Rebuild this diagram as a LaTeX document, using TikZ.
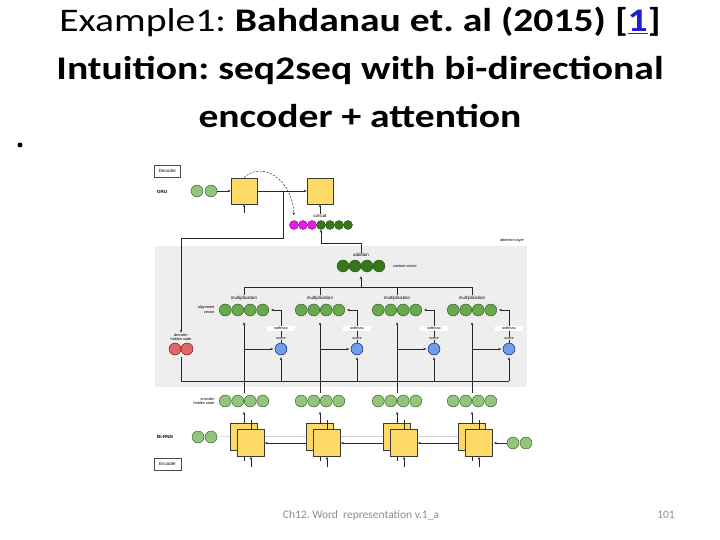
\documentclass[tikz,border=0pt]{standalone}
\usepackage{fontspec}
\setmainfont{Carlito}
\newfontfamily\diagfont{Liberation Sans}
\usetikzlibrary{arrows.meta}
\definecolor{boxyellow}{HTML}{FFD966}
\definecolor{boxline}{HTML}{3A3A3A}
\definecolor{lightgreen}{HTML}{93C47D}
\definecolor{midgreen}{HTML}{6AA84F}
\definecolor{darkgreen}{HTML}{38761D}
\definecolor{concatpink}{HTML}{E61CE6}
\definecolor{scoreblue}{HTML}{6D9EEB}
\definecolor{hiddenred}{HTML}{E06666}
\definecolor{layergray}{HTML}{EEEEEE}
\definecolor{linkblue}{HTML}{1F1FD0}
\definecolor{footgray}{HTML}{8C8C8C}
\frenchspacing

\begin{document}
\begin{tikzpicture}[x=1pt,y=-1pt]
\tikzset{
	rnnbox/.style={draw=boxline, fill=boxyellow, minimum size=27pt, inner sep=0pt, line width=0.6pt},
	cell/.style={circle, draw=darkgreen!70!black, minimum size=12pt, inner sep=0pt, line width=0.4pt},
	smallcell/.style={cell, minimum size=9pt},
	tiny/.style={font=\diagfont\fontsize{4.5}{5}\selectfont, inner sep=0.5pt},
	tinybold/.style={font=\diagfont\bfseries\fontsize{4.5}{5}\selectfont, inner sep=0.5pt},
	side/.style={font=\diagfont\fontsize{3.8}{4.3}\selectfont, align=right, inner sep=0.5pt},
	heading/.style={anchor=base, font=\fontsize{33}{40}\selectfont},
	arr/.style={-{Stealth[length=3pt,width=2.4pt]}, line width=0.5pt, draw=black!85},
	link/.style={line width=0.5pt, draw=black!85},
	faint/.style={arr, draw=black!18}
}
\useasboundingbox (0,0) rectangle (720,540);

\node[heading] (TTL1) at (360,32) {\scalebox{1.2}[1]{Example1: \textbf{Bahdanau et. al (2015) [\textcolor{linkblue}{\underline{1}}]}}};
\node[heading] (TTL2) at (360,80) {\scalebox{1.2}[1]{\bfseries Intuition: seq2seq with bi-directional}};
\node[heading] (TTL3) at (360,128) {\scalebox{1.2}[1]{\bfseries encoder + attention}};
\node[circle, fill=black, minimum size=5pt, inner sep=0pt] (BUL) at (20,145) {};

% attention layer background
\fill[layergray] (155,246) rectangle (527,387);
\node[side] (ATL) at (512,241) {attention layer};

% decoder
\node[draw=black!70, tiny, minimum width=26pt, minimum height=12pt] (DEC) at (167.5,171) {Decoder};
\node[tinybold] (GRU) at (162,192) {GRU};
\node[cell, fill=lightgreen] (GIN1) at (197,191) {};
\node[cell, fill=lightgreen] (GIN2) at (211,191) {};
\node[rnnbox, minimum size=26pt] (GRUA) at (244,191) {};
\node[rnnbox, minimum size=26pt] (GRUB) at (320,191) {};
\coordinate (GRUIN) at (244,213);
\coordinate (HSPLIT) at (283,191);
\coordinate (HBEND) at (283,238);
\draw[arr] (GIN2) -- (GRUA);
\draw[arr] (GRUIN) -- (GRUA);
\draw[arr] (GRUA) -- (GRUB);

% concat
\node[tiny] (CCT) at (320,216) {concat};
\foreach \x [count=\k] in {294,303,312}
	\node[smallcell, fill=concatpink, draw=concatpink!60!black] (CP\k) at (\x,225) {};
\foreach \x [count=\k] in {321,330,339,348}
	\node[smallcell, fill=darkgreen] (CG\k) at (\x,225) {};
\draw[arr] (CCT) -- (GRUB);
\draw[arr, dash pattern=on 2pt off 1.5pt, shorten >=5pt] (GRUA.north) .. controls (262,160) and (293,180) .. (CP1.north);

% decoder hidden state
\node[side, align=center] (DHS) at (181,337) {decoder\\hidden state};
\node[cell, fill=hiddenred, draw=red!40!black] (RED1) at (175,349) {};
\node[cell, fill=hiddenred, draw=red!40!black] (RED2) at (187,349) {};
\draw[arr] (HSPLIT) -- (HBEND) -| (DHS.north);

% addition
\node[tiny] (ADDL) at (361,255) {addition};
\foreach \x [count=\k] in {343,355,367,379}
	\node[cell, fill=darkgreen] (AD\k) at (\x,266) {};
\node[side] (CTXL) at (405,266) {context vector};
\coordinate (CTXBEND) at (321,243);
\draw[arr] (ADDL.north) |- (CTXBEND) -- (CG1.south);

% multiplications and scores
\node[side, anchor=east] (ALV) at (215,309.5) {alignment\\vector};
\node[side, anchor=east] (EHS) at (215,401) {encoder\\hidden state};
\coordinate (DHTOP) at (181,357);
\coordinate (DHL) at (181,381);
\foreach \c [count=\i] in {244,320,397,472}{
	\node[tiny] (MULL\i) at (\c,298) {multiplication};
	\foreach \o [count=\j] in {-18.75,-6.25,6.25,18.75}{
		\node[cell, fill=midgreen] (MUL\i\j) at (\c+\o,310) {};
		\node[cell, fill=lightgreen] (ENC\i\j) at (\c+\o,401) {};
	}
	\node[cell, fill=scoreblue, draw=blue!40!black] (SCR\i) at (\c+37,349) {};
	\coordinate (EUP\i) at (\c,393);
	\draw[arr, shorten >=6pt] (EUP\i) -- (EUP\i |- MUL\i2.south);
	\draw[arr, shorten >=1.5pt] (EUP\i |- SCR\i) -- (SCR\i.west);
	\draw[arr, shorten >=2pt] (SCR\i.north) |- (MUL\i4.east);
	\draw[arr, shorten >=2pt] (SCR\i |- DHL) -- (SCR\i.south);
	\node[side, fill=white, minimum width=28pt, minimum height=5pt] (SMX\i) at (\c+37,328) {softmax};
	\node[side, fill=layergray] (SCL\i) at (\c+37,338.5) {score};
}
\draw[link] (DHTOP) -- (DHL) -- (SCR4 |- DHL);

\coordinate (SUMUP) at (361,287);
\draw[link] (MULL1.north |- SUMUP) -- (MULL4.north |- SUMUP);
\foreach \i in {1,...,4}
	\draw[link] (MULL\i.north |- SUMUP) -- (MULL\i.north);
\draw[arr, shorten >=4pt] (SUMUP) -- (SUMUP |- AD2.south);

% encoder
\node[tinybold] (BRNN) at (165,437) {Bi-RNN};
\node[draw=black!70, tiny, minimum width=27pt, minimum height=12pt] (ENCB) at (167.5,464) {Encoder};
\foreach \c [count=\i] in {244,320,397,472}{
	\node[rnnbox] (BACK\i) at (\c,436.5) {};
	\coordinate (BIN\i) at (\c,461);
	\draw[link] (BIN\i) -- (BACK\i.south);
	\draw[arr, shorten >=4.5pt] (BACK\i.north) -- (BACK\i.north |- ENC\i2.south);
	\node[rnnbox] (FRONT\i) at (\c+7,443) {};
	\coordinate (FIN\i) at (\c+7,467);
	\draw[arr] (FIN\i) -- (FRONT\i.south);
	\draw[link] (FRONT\i.north) -- ++(0,-9);
}
\foreach \i/\j in {1/2,2/3,3/4}{
	\draw[faint] (FRONT\i.east |- BACK\i.west) -- (BACK\j.west);
	\draw[arr] (BACK\j.west |- FRONT\j.east) -- (FRONT\i.east);
}
\node[cell, fill=lightgreen] (BL1) at (198,437) {};
\node[cell, fill=lightgreen] (BL2) at (211,437) {};
\node[cell, fill=lightgreen] (BR1) at (513,443) {};
\node[cell, fill=lightgreen] (BR2) at (526,443) {};
\draw[faint] (BL2) -- (BACK1.west);
\draw[arr, shorten >=1pt] (BR1) -- (FRONT4.east);

% footer
\node[anchor=base, font=\fontsize{11.5}{12}\selectfont, text=footgray] (FOOT) at (361,518) {Ch12. Word\ \ representation v.1\_a};
\node[anchor=base, font=\fontsize{11.5}{12}\selectfont, text=footgray] (PAGE) at (666,518) {101};
\end{tikzpicture}
\end{document}
